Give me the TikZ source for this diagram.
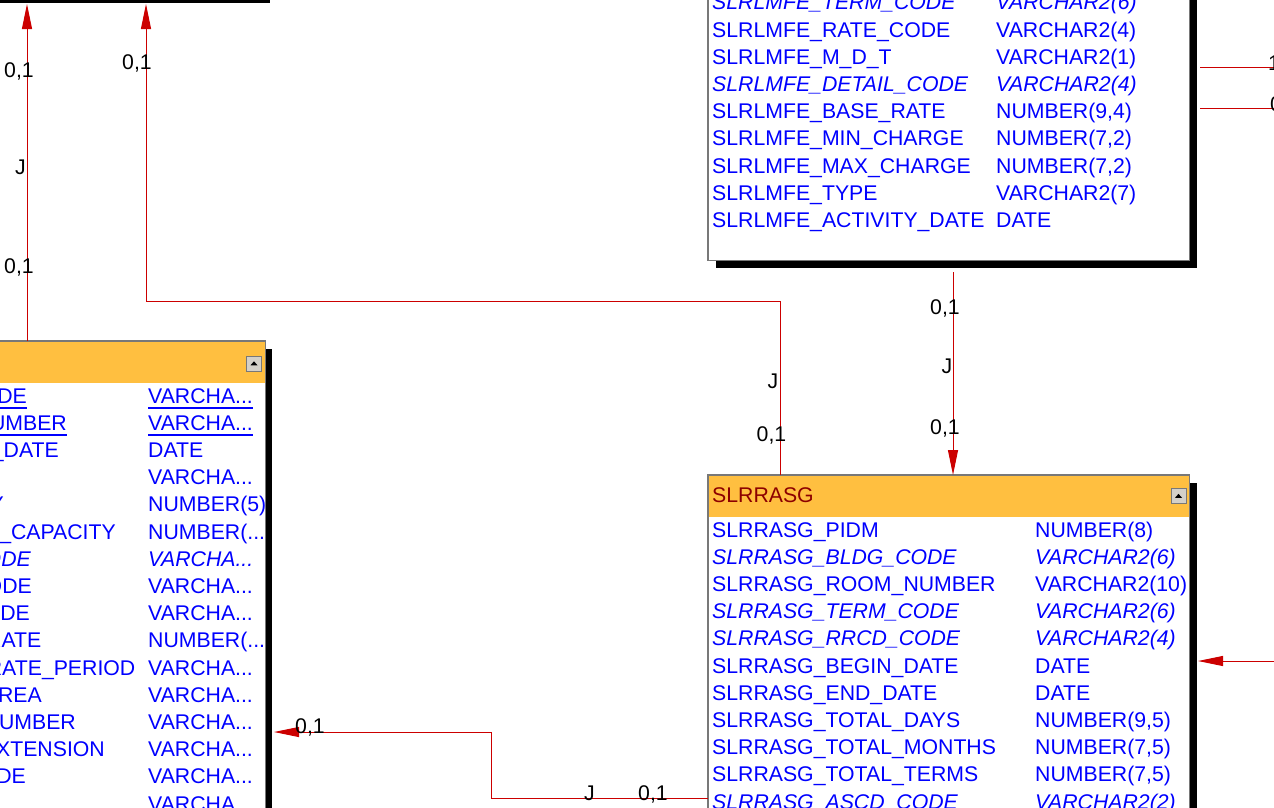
\documentclass[tikz,border=0pt]{standalone}
\usepackage{fontspec}
\setmainfont{Liberation Sans}
\usetikzlibrary{arrows.meta,calc}
\definecolor{hdr}{RGB}{255,191,64}
\definecolor{lnk}{RGB}{204,0,0}
\definecolor{fld}{RGB}{0,0,255}
\definecolor{ttl}{RGB}{140,0,0}
\definecolor{bdr}{RGB}{120,120,120}
\definecolor{btn}{RGB}{212,208,200}
\newcommand\dfont{\fontsize{21.25}{24}\selectfont}
\newcommand\ulx[1]{\setbox0\hbox{#1}\rlap{\rule[-5.5pt]{\wd0}{1.6pt}}\box0}
\newcommand\trow[8]{\node[#5] (#1a) at (#2,#4) {#7};\node[#6] (#1b) at (#3,#4) {#8};}
\tikzset{
  fw/.style={anchor=base west, inner sep=0pt, text=fld, font=\dfont},
  fwi/.style={fw, font=\dfont\itshape},
  fe/.style={anchor=base east, inner sep=0pt, text=fld, font=\dfont},
  fei/.style={fe, font=\dfont\itshape},
  lbl/.style={anchor=base, inner sep=0pt, text=black, font=\dfont},
  lblw/.style={anchor=base west, inner sep=0pt, text=black, font=\dfont},
  conn/.style={draw=lnk, line width=1pt},
  arr/.style={-{Triangle[length=25pt,width=10pt]}},
  tblbody/.style={fill=white, anchor=north west, inner sep=0pt},
  hdrbox/.style={fill=hdr, anchor=north west, inner sep=0pt},
  frame/.style={draw=bdr, line width=1.2pt},
  shadowbox/.style={fill=black},
  btnbox/.style={fill=btn, draw=bdr, line width=0.8pt, minimum size=15pt, inner sep=0pt},
}
\begin{document}
\begin{tikzpicture}[x=1pt,y=-1pt]
\useasboundingbox (0,0) rectangle (1274,807);
\fill[white] (0,0) rectangle (1274,807);
\clip (0,0) rectangle (1274,807);

% ---------- top-left table (only its shadow is visible)
\node[fill=black, anchor=south west, minimum width=280pt, minimum height=20pt, inner sep=0pt] (shA) at (-10,3) {};

% ---------- SLRLMFE table (top right)
\node[tblbody, minimum width=481pt, minimum height=400pt] (lmfe) at (708,-140) {};
\fill[shadowbox] ($(lmfe.north east)+(0,8)$) rectangle ($(lmfe.south east)+(8,8)$);
\fill[shadowbox] ($(lmfe.south west)+(8,0)$) rectangle ($(lmfe.south east)+(8,8)$);
\draw[frame] (lmfe.north west) rectangle (lmfe.south east);
\trow{m0}{712}{996}{9.8}{fwi}{fwi}{SLRLMFE\_TERM\_CODE}{VARCHAR2(6)}
\trow{m1}{712}{996}{37}{fw}{fw}{SLRLMFE\_RATE\_CODE}{VARCHAR2(4)}
\trow{m2}{712}{996}{64.2}{fw}{fw}{SLRLMFE\_M\_D\_T}{VARCHAR2(1)}
\trow{m3}{712}{996}{91.4}{fwi}{fwi}{SLRLMFE\_DETAIL\_CODE}{VARCHAR2(4)}
\trow{m4}{712}{996}{118.6}{fw}{fw}{SLRLMFE\_BASE\_RATE}{NUMBER(9,4)}
\trow{m5}{712}{996}{145.8}{fw}{fw}{SLRLMFE\_MIN\_CHARGE}{NUMBER(7,2)}
\trow{m6}{712}{996}{173}{fw}{fw}{SLRLMFE\_MAX\_CHARGE}{NUMBER(7,2)}
\trow{m7}{712}{996}{200.2}{fw}{fw}{SLRLMFE\_TYPE}{VARCHAR2(7)}
\trow{m8}{712}{996}{227.4}{fw}{fw}{SLRLMFE\_ACTIVITY\_DATE}{DATE}

% ---------- SLRRASG table (bottom right)
\node[tblbody, minimum width=481pt, minimum height=400pt] (rasg) at (708,475) {};
\fill[shadowbox] ($(rasg.north east)+(0,8)$) rectangle ($(rasg.south east)+(8,8)$);
\node[hdrbox, minimum width=481pt, minimum height=42pt] (rasgH) at (708,475) {};
\draw[frame] (rasg.north west) rectangle (rasg.south east);
\node[anchor=base west, inner sep=0pt, text=ttl, font=\dfont] (rasgT) at (712,502) {SLRRASG};
\node[btnbox] (rasgB) at (1178.5,496) {};
\fill[black] ($(rasgB.center)+(-3.5,1.8)$) -- ++(7,0) -- ++(-3.5,-4) -- cycle;
\trow{r0}{712}{1035}{537}{fw}{fw}{SLRRASG\_PIDM}{NUMBER(8)}
\trow{r1}{712}{1035}{564.2}{fwi}{fwi}{SLRRASG\_BLDG\_CODE}{VARCHAR2(6)}
\trow{r2}{712}{1035}{591.4}{fw}{fw}{SLRRASG\_ROOM\_NUMBER}{VARCHAR2(10)}
\trow{r3}{712}{1035}{618.6}{fwi}{fwi}{SLRRASG\_TERM\_CODE}{VARCHAR2(6)}
\trow{r4}{712}{1035}{645.8}{fwi}{fwi}{SLRRASG\_RRCD\_CODE}{VARCHAR2(4)}
\trow{r5}{712}{1035}{673}{fw}{fw}{SLRRASG\_BEGIN\_DATE}{DATE}
\trow{r6}{712}{1035}{700.2}{fw}{fw}{SLRRASG\_END\_DATE}{DATE}
\trow{r7}{712}{1035}{727.4}{fw}{fw}{SLRRASG\_TOTAL\_DAYS}{NUMBER(9,5)}
\trow{r8}{712}{1035}{754.6}{fw}{fw}{SLRRASG\_TOTAL\_MONTHS}{NUMBER(7,5)}
\trow{r9}{712}{1035}{781.8}{fw}{fw}{SLRRASG\_TOTAL\_TERMS}{NUMBER(7,5)}
\trow{r10}{712}{1035}{809}{fwi}{fwi}{SLRRASG\_ASCD\_CODE}{VARCHAR2(2)}

% ---------- left table (cut off)
\node[tblbody, minimum width=315pt, minimum height=500pt] (bdef) at (-50,341) {};
\fill[shadowbox] ($(bdef.north east)+(0,8)$) rectangle ($(bdef.south east)+(7,8)$);
\node[hdrbox, minimum width=315pt, minimum height=42pt] (bdefH) at (-50,341) {};
\draw[frame] (bdef.north west) rectangle (bdef.south east);
\node[btnbox] (bdefB) at (254,363.5) {};
\fill[black] ($(bdefB.center)+(-3.5,1.8)$) -- ++(7,0) -- ++(-3.5,-4) -- cycle;
\trow{b0}{27}{148}{403}{fe}{fw}{\ulx{SLBRDEF\_BLDG\_CODE}}{\ulx{VARCHA...}}
\trow{b1}{67}{148}{430.2}{fe}{fw}{\ulx{SLBRDEF\_ROOM\_NUMBER}}{\ulx{VARCHA...}}
\trow{b2}{59}{148}{457.4}{fe}{fw}{SLBRDEF\_EFF\_DATE}{DATE}
\trow{b3}{-15}{148}{484.6}{fe}{fw}{SLBRDEF\_DESC}{VARCHA...}
\trow{b4}{4}{148}{511.8}{fe}{fw}{SLBRDEF\_CAPACITY}{NUMBER(5)}
\trow{b5}{116}{148}{539}{fe}{fw}{SLBRDEF\_MAXIMUM\_CAPACITY}{NUMBER(...}
\trow{b6}{31}{148}{566.2}{fei}{fwi}{SLBRDEF\_RMST\_CODE}{VARCHA...}
\trow{b7}{32}{148}{593.4}{fe}{fw}{SLBRDEF\_COLL\_CODE}{VARCHA...}
\trow{b8}{30}{148}{620.6}{fe}{fw}{SLBRDEF\_DEPT\_CODE}{VARCHA...}
\trow{b9}{41.5}{148}{647.8}{fe}{fw}{SLBRDEF\_UTILITY\_RATE}{NUMBER(...}
\trow{b10}{135.5}{148}{675}{fe}{fw}{SLBRDEF\_UTILITY\_RATE\_PERIOD}{VARCHA...}
\trow{b11}{42}{148}{702.2}{fe}{fw}{SLBRDEF\_PHONE\_AREA}{VARCHA...}
\trow{b12}{76}{148}{729.4}{fe}{fw}{SLBRDEF\_PHONE\_NUMBER}{VARCHA...}
\trow{b13}{105}{148}{756.6}{fe}{fw}{SLBRDEF\_PHONE\_EXTENSION}{VARCHA...}
\trow{b14}{26}{148}{783.8}{fe}{fw}{SLBRDEF\_DCAT\_CODE}{VARCHA...}
\trow{b15}{-15}{148}{811}{fe}{fw}{SLBRDEF\_SEX}{VARCHA...}

% ---------- connectors
\coordinate (bdefTop) at (27,341);
\coordinate (shA1) at (27,4);
\draw[conn,arr] (bdefTop) -- (shA1);
\node[lbl] (c1a) at (19,77) {0,1};
\node[lbl] (c1b) at (20.5,174) {J};
\node[lbl] (c1c) at (19,273) {0,1};

\coordinate (rasgTop1) at (780,475);
\coordinate (shA2) at (146,4);
\draw[conn,arr] (rasgTop1) -- ++(0,-174) -| (shA2);
\node[lbl] (c2a) at (137,69) {0,1};
\node[lbl] (c2b) at (773,388) {J};
\node[lbl] (c2c) at (771.5,441) {0,1};

\coordinate (lmfeBot) at (953,272);
\coordinate (rasgTop2) at (953,475);
\draw[conn,arr] (lmfeBot) -- (rasgTop2);
\node[lbl] (c3a) at (945,314) {0,1};
\node[lbl] (c3b) at (947,373) {J};
\node[lbl] (c3c) at (945,434) {0,1};

\coordinate (rasgLeft) at (708,798);
\coordinate (bdefRight) at (274,732);
\draw[conn,arr] (rasgLeft) -- ++(-217,0) |- (bdefRight);
\node[lbl] (c4a) at (310,733) {0,1};
\node[lbl] (c4b) at (589.5,800) {J};
\node[lbl] (c4c) at (653,800) {0,1};

\coordinate (offR) at (1290,661);
\coordinate (rasgRight) at (1198,661);
\draw[conn,arr] (offR) -- (rasgRight);

\coordinate (lmfeR1) at (1200,67);
\coordinate (offR1) at (1290,67);
\draw[conn] (lmfeR1) -- (offR1);
\node[lblw] (c5a) at (1268,70) {1};
\coordinate (lmfeR2) at (1200,108);
\coordinate (offR2) at (1290,108);
\draw[conn] (lmfeR2) -- (offR2);
\node[lblw] (c6a) at (1270,111) {0,1};
\end{tikzpicture}
\end{document}
